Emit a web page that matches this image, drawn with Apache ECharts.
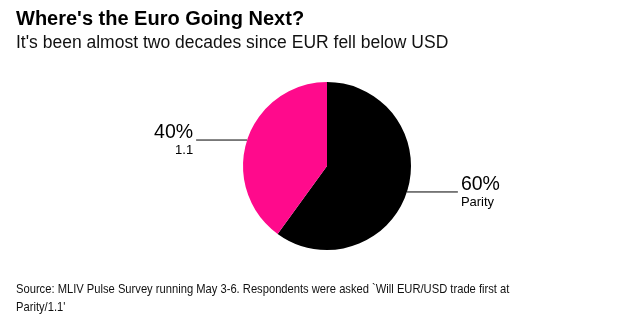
<!DOCTYPE html>
<html><head><meta charset="utf-8">
<script src="https://cdn.jsdelivr.net/npm/echarts@6/dist/echarts.min.js"></script>
<style>html,body{margin:0;padding:0;background:#fff}#c{width:636px;height:326px}</style>
</head><body><div id="c"></div>
<script>
const categories = ["Parity", "1.1"];
const values = [60, 40];
const colors = ["#000000", "#ff0a8c"];
const titleText = "Where's the Euro Going Next?";
const subtitleText = "It's been almost two decades since EUR fell below USD";
const sourceLines = ["Source: MLIV Pulse Survey running May 3-6. Respondents were asked `Will EUR/USD trade first at", "Parity/1.1'"];

const chart = echarts.init(document.getElementById('c'));
chart.setOption({
  animation: false,
  backgroundColor: '#fff',
  graphic: [
    {type: 'text', left: 16, top: 9, style: {text: titleText, font: 'bold 20px "Liberation Sans", Arial, sans-serif', fill: '#000'}},
    {type: 'text', left: 16, top: 34, style: {text: subtitleText, font: '17.5px "Liberation Sans", Arial, sans-serif', fill: '#111'}},
    {type: 'text', x: 16, y: 280, scaleX: 0.86, style: {text: sourceLines.join('\n'), font: '13px "Liberation Sans", Arial, sans-serif', lineHeight: 18, fill: '#111'}}
  ],
  series: [{
    type: 'pie',
    center: [327, 166],
    radius: [0, 84],
    startAngle: 90,
    clockwise: true,
    avoidLabelOverlap: false,
    data: categories.map((c, i) => ({name: c, value: values[i], itemStyle: {color: colors[i]}})),
    label: {
      show: true,
      position: 'outside',
      formatter: p => '{a|' + p.value + '%}\n{b|' + p.name + '}',
      distanceToLabelLine: 3,
      rich: {
        a: {fontSize: 19.5, lineHeight: 20, color: '#000', fontFamily: '"Liberation Sans", Arial, sans-serif'},
        b: {fontSize: 13, lineHeight: 15, color: '#000', fontFamily: '"Liberation Sans", Arial, sans-serif'}
      }
    },
    labelLine: {show: true, length: 0, length2: 51, lineStyle: {color: '#000', width: 1}},
    emphasis: {disabled: true}
  }]
});
</script></body></html>
